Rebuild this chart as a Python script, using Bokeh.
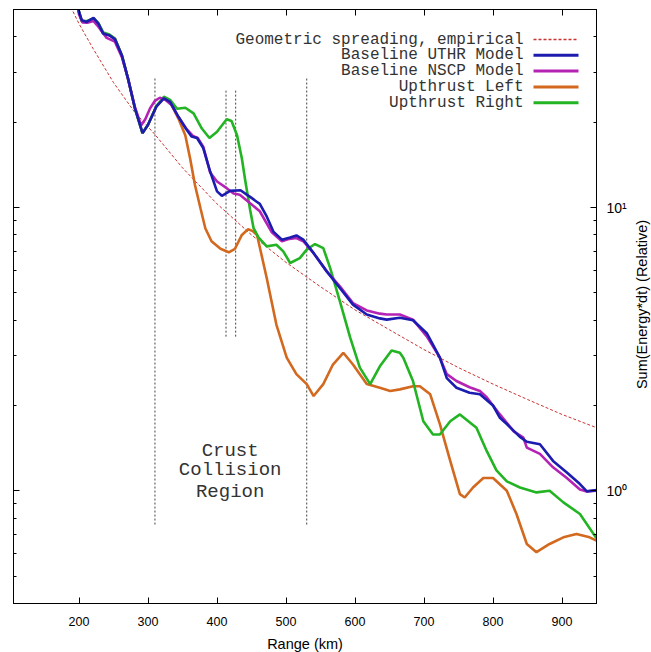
import math
from bokeh.plotting import figure
from bokeh.layouts import row
from bokeh.models import (LinearAxis, LogAxis, FixedTicker, Label, Arrow, Range1d)
from bokeh.embed import file_html
from bokeh.resources import INLINE

# ---------------- data ----------------
geo_x = [188, 200, 220, 250, 280, 310, 350, 400, 450, 500, 550, 600, 650, 700, 750, 800, 850, 900, 950]
geo_y = [51, 44.5, 36.5, 27.6, 21.8, 18.1, 13.8, 10.3, 8.0, 6.4, 5.25, 4.35, 3.7, 3.15, 2.72, 2.38, 2.1, 1.86, 1.67]

uthr_x = [195, 200, 204, 211, 221, 228, 235, 244, 252, 262, 271, 281, 292, 300, 312, 323, 332, 344, 356, 363,
          371, 380, 390, 400, 407, 419, 434, 443, 448, 457, 462, 472, 482, 494, 506, 515, 525, 540, 559, 578,
          597, 617, 636, 646, 665, 684, 704, 723, 733, 747, 766, 781, 800, 810, 820, 839, 849, 868, 887, 907,
          926, 936, 950]
uthr_y = [56, 49, 45.8, 45.2, 46.7, 44.6, 41.1, 40.5, 39.3, 34.5, 28.5, 22.4, 18.3, 19.6, 22.7, 24.3, 23.6, 20.9, 18.8, 17.8,
          17.6, 16.2, 13.4, 11.4, 11.0, 11.45, 11.5, 11.1, 10.9, 10.5, 10.3, 9.3, 8.2, 7.7, 7.84, 7.97, 7.7, 6.9, 5.95, 5.2,
          4.54, 4.19, 4.06, 4.02, 4.08, 4.0, 3.6, 2.95, 2.5, 2.31, 2.22, 2.19, 2.0, 1.81, 1.72, 1.55, 1.49, 1.46, 1.275, 1.16,
          1.056, 0.995, 1.005]

nscp_x = [195, 200, 205, 212, 221, 228, 240, 252, 262, 271, 281, 290, 296, 303, 310, 317, 325, 334, 344, 356,
          365, 372, 380, 390, 400, 414, 424, 433, 448, 462, 479, 494, 505, 515, 525, 540, 559, 578, 597, 617,
          636, 646, 665, 684, 704, 723, 733, 747, 766, 781, 790, 810, 830, 844, 849, 868, 887, 907, 926, 936, 950]
nscp_y = [56, 48, 45.0, 44.9, 45.5, 43.5, 39.7, 38.5, 34.0, 28.5, 22.6, 19.5, 20.5, 22.4, 23.8, 24.4, 24.0, 23.0, 20.9, 18.9,
          17.9, 17.6, 16.4, 13.3, 12.35, 11.7, 11.2, 11.1, 10.35, 9.7, 8.2, 7.6, 7.75, 7.8, 7.6, 6.9, 5.95, 5.27, 4.6, 4.33,
          4.22, 4.19, 4.19, 4.02, 3.51, 2.95, 2.58, 2.44, 2.32, 2.25, 2.15, 1.86, 1.62, 1.54, 1.42, 1.35, 1.21, 1.11, 1.01, 0.995, 1.0]

left_x = [195, 200, 204, 211, 221, 228, 235, 244, 252, 262, 271, 281, 292, 300, 312, 323, 332, 344, 354, 361,
          368, 376, 383, 392, 405, 417, 426, 436, 445, 452, 458, 472, 486, 501, 515, 530, 540, 554, 568, 583,
          597, 617, 636, 651, 665, 684, 694, 709, 723, 738, 752, 759, 771, 786, 800, 820, 834, 849, 863, 882,
          902, 921, 940, 950]
left_y = [56, 49, 45.5, 45.3, 46.5, 44.6, 41.2, 40.6, 39.4, 34.5, 28.5, 22.4, 18.3, 19.6, 22.7, 24.4, 23.6, 20.6, 18.0, 14.9,
          12.0, 9.94, 8.45, 7.6, 7.15, 6.95, 7.15, 8.0, 8.38, 8.25, 8.0, 5.64, 3.86, 2.95, 2.58, 2.38, 2.16, 2.38, 2.79, 3.07,
          2.79, 2.38, 2.31, 2.25, 2.28, 2.34, 2.34, 2.19, 1.72, 1.275, 0.973, 0.947, 1.027, 1.11, 1.11, 1.0, 0.828, 0.649, 0.607, 0.649,
          0.685, 0.704, 0.685, 0.667]

right_x = [195, 200, 204, 211, 221, 228, 235, 244, 252, 262, 271, 281, 292, 300, 312, 323, 332, 342, 354, 366,
           378, 389, 400, 414, 421, 429, 436, 441, 448, 453, 460, 472, 486, 496, 506, 520, 530, 542, 554, 564,
           578, 593, 607, 622, 636, 653, 665, 670, 684, 699, 713, 723, 738, 752, 776, 791, 805, 820, 839, 863,
           882, 902, 926, 950]
right_y = [56, 49, 45.5, 45.5, 46.5, 44.8, 41.5, 40.8, 39.5, 34.5, 28.5, 22.4, 18.3, 19.6, 22.8, 24.6, 24.0, 22.3, 22.5, 21.5,
           19.0, 17.6, 18.5, 20.5, 20.2, 18.0, 14.9, 12.4, 9.8, 8.45, 7.85, 7.29, 7.39, 7.0, 6.37, 6.63, 7.1, 7.43, 7.19, 6.11,
           4.67, 3.47, 2.72, 2.38, 2.75, 3.13, 3.07, 2.95, 2.44, 1.76, 1.58, 1.58, 1.76, 1.86, 1.67, 1.38, 1.18, 1.08, 1.027, 0.987,
           1.0, 0.91, 0.828, 0.68]

region_x = [310, 413, 427, 530]
region_top = [29, 26, 26, 29]
region_bottom = [0.76, 3.5, 3.5, 0.76]

x_ticks = [200, 300, 400, 500, 600, 700, 800, 900]
y_ticks = [1, 10]
y_minor = [0.4, 0.5, 0.6, 0.7, 0.8, 0.9, 2, 3, 4, 5, 6, 7, 8, 9, 20, 30, 40, 50]
y_tick_labels = {1: "10\u2070", 10: "10\u00b9"}

series_names = ["Geometric spreading, empirical", "Baseline UTHR Model", "Baseline NSCP Model",
                "Upthrust Left", "Upthrust Right"]
series_colors = ["#c83232", "#1c1cb0", "#b423b4", "#d2691e", "#22b422"]

region_text = ["Crust", "Collision", "Region"]
region_text_x = 419
region_text_y = [1.38, 1.18, 0.99]

y_title = "Sum(Energy*dt) (Relative)"
x_title = "Range (km)"

# ---------------- figure ----------------
FW, FH = 583, 594
BL, BT, BR = 13, 9, 34
TOTAL_H = 652
p = figure(frame_width=FW, frame_height=FH, x_range=Range1d(105, 950), y_range=Range1d(0.4, 50),
           y_axis_type="log", y_axis_location="right", output_backend="svg", toolbar_location=None,
           min_border_left=BL, min_border_top=BT, min_border_right=BR, min_border_bottom=0,
           background_fill_color="white", border_fill_color="white")
p.xgrid.visible = False
p.ygrid.visible = False
p.outline_line_color = "black"
p.outline_line_width = 1

FONT = "Liberation Sans"

xt = FixedTicker(ticks=x_ticks, minor_ticks=[])
yt = FixedTicker(ticks=y_ticks, minor_ticks=y_minor)

def style(ax, labels=True):
    ax.axis_line_color = "black"
    ax.major_tick_in = 6
    ax.major_tick_out = 0
    ax.minor_tick_in = 3
    ax.minor_tick_out = 0
    ax.major_tick_line_color = "black"
    ax.minor_tick_line_color = "black"
    if labels:
        ax.major_label_text_font = FONT
        ax.major_label_text_font_size = "12.5px"
        ax.major_label_text_color = "black"
        ax.axis_label_text_font = FONT
        ax.axis_label_text_font_size = "14.5px"
        ax.axis_label_text_font_style = "normal"
        ax.axis_label_text_color = "black"

xb = p.xaxis[0]
xb.ticker = xt
style(xb)
xb.axis_label = x_title
xb.major_label_standoff = 13
xb.axis_label_standoff = 7

yr = p.yaxis[0]
yr.ticker = yt
style(yr)
yr.major_label_overrides = y_tick_labels
yr.major_label_text_font_size = "14px"
yr.major_label_standoff = 10

xa = LinearAxis(ticker=xt, major_label_overrides={t: "" for t in x_ticks},
                major_label_text_font_size="1px", major_label_standoff=0)
style(xa, labels=False)
p.add_layout(xa, "above")

yl = LogAxis(ticker=yt, major_label_overrides={t: "" for t in y_ticks},
             major_label_text_font_size="1px", major_label_standoff=0)
style(yl, labels=False)
p.add_layout(yl, "left")

# ---------------- marks ----------------
p.segment(x0=region_x, y0=region_bottom, x1=region_x, y1=region_top,
          line_color="#444444", line_width=1, line_dash="2 2")

p.line(geo_x, geo_y, line_color=series_colors[0], line_width=1, line_dash="3 2")
p.line(left_x, left_y, line_color=series_colors[3], line_width=2.6)
p.line(right_x, right_y, line_color=series_colors[4], line_width=2.6)
p.line(nscp_x, nscp_y, line_color=series_colors[2], line_width=2.6)
p.line(uthr_x, uthr_y, line_color=series_colors[1], line_width=2.6)

# region text
for t, yy in zip(region_text, region_text_y):
    p.add_layout(Label(x=region_text_x, y=yy, text=t, text_align="center", text_baseline="middle",
                       text_font="Liberation Mono", text_font_size="19px", text_color="#333333"))

# legend (text right-aligned, sample on the right)
row_top = 564
row_gap = 15.8
for i, (name, col) in enumerate(zip(series_names, series_colors)):
    yy = row_top - i * row_gap
    p.add_layout(Label(x=510, y=yy, x_units="screen", y_units="screen", text=name,
                       text_align="right", text_baseline="middle", text_font="Liberation Mono",
                       text_font_size="16px", text_color="#333333"))
    p.add_layout(Arrow(x_start=520, y_start=yy, x_end=565, y_end=yy, start_units="screen",
                       end_units="screen", end=None, line_color=col,
                       line_width=1.3 if i == 0 else 3, line_dash="3 2" if i == 0 else "solid"))

# ---------------- y-axis title strip (reads bottom to top) ----------------
TW = 651 - (BL + FW + BR)
t = figure(width=TW, height=TOTAL_H, x_range=Range1d(0, 1), y_range=Range1d(0, 1),
           x_axis_type=None, y_axis_type=None, output_backend="svg", toolbar_location=None,
           min_border=0, outline_line_color=None,
           background_fill_color="white", border_fill_color="white")
t.add_layout(Label(x=TW - 10, y=FH / 2, x_units="screen", y_units="screen",
                   text=y_title, angle=math.pi / 2, text_align="center", text_baseline="middle",
                   text_font=FONT, text_font_size="14.5px", text_color="black"))

layout = row(p, t, spacing=0)

with open("out.html", "w") as f:
    f.write(file_html(layout, INLINE))
